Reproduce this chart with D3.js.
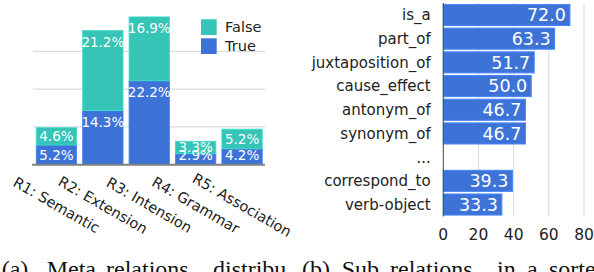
<!DOCTYPE html>
<html><head><meta charset="utf-8">
<script src="https://cdn.jsdelivr.net/npm/d3@7"></script>
<style>html,body{margin:0;padding:0;background:#fff;overflow:hidden}svg{display:block}</style>
</head><body>
<script>
// ---- Data ----
const metaCategories = ["R1: Semantic", "R2: Extension", "R3: Intension", "R4: Grammar", "R5: Association"];
const trueValues = [5.2, 14.3, 22.2, 2.9, 4.2];
const falseValues = [4.6, 21.2, 16.9, 3.3, 5.2];
const leftGridTicks = [10, 20, 30];
const legendLabels = ["False", "True"];

const subCategories = ["is_a", "part_of", "juxtaposition_of", "cause_effect", "antonym_of", "synonym_of", "...", "correspond_to", "verb-object"];
const subValues = [72.0, 63.3, 51.7, 50.0, 46.7, 46.7, null, 39.3, 33.3];
const rightTicks = [0, 20, 40, 60, 80];

const captionA = ["(a)", "Meta", "relations", "distribu"];
const captionB = ["(b)", "Sub", "relations", "in", "a", "sorted"];

// ---- Style ----
const TEAL = "#35c4b5", BLUE = "#3d73d6", FONT = "DejaVu Sans";
const W = 594, H = 272;
const svg = d3.select("body").append("svg").attr("width", W).attr("height", H);

// ---- Left chart: stacked bars ----
const x1 = d3.scaleBand().domain(metaCategories).range([33, 265.5]).paddingInner(0.13).paddingOuter(0.07);
const y1 = d3.scaleLinear().domain([0, 40]).range([164.7, 13.5]);

const gL = svg.append("g");
gL.selectAll("line.grid").data(leftGridTicks).join("line")
  .attr("x1", 33).attr("x2", 265).attr("y1", d => y1(d)).attr("y2", d => y1(d))
  .attr("stroke", "#d4d4d4").attr("stroke-width", 1);

const stackData = metaCategories.map((c, i) => ({cat: c, t: trueValues[i], f: falseValues[i]}));
const stack = d3.stack().keys(["t", "f"])(stackData);
const colors = {t: BLUE, f: TEAL};

stack.forEach(layer => {
  gL.selectAll(null).data(layer).join("rect")
    .attr("x", d => x1(d.data.cat)).attr("width", x1.bandwidth())
    .attr("y", d => y1(d[1])).attr("height", d => y1(d[0]) - y1(d[1]))
    .attr("fill", colors[layer.key]).attr("stroke", d3.color(colors[layer.key]).brighter(0.35)).attr("stroke-width", 0.8);
});
stack.forEach(layer => {
  gL.selectAll(null).data(layer).join("text")
    .attr("x", d => x1(d.data.cat) + x1.bandwidth() / 2)
    .attr("y", d => {
      const top = y1(d[1]), h = y1(d[0]) - y1(d[1]);
      let c = top + Math.min(11.5, h / 2);
      c = Math.min(c, y1(0) - 9.5);
      return c;
    })
    .attr("dy", "0.36em").attr("text-anchor", "middle")
    .attr("font-family", FONT).attr("font-size", 13.5).attr("fill", "#fff")
    .text(d => d3.format(".1f")(d[1] - d[0]) + "%");
});

// baseline
gL.append("line").attr("x1", 32).attr("x2", 265).attr("y1", y1(0)).attr("y2", y1(0))
  .attr("stroke", "#808080").attr("stroke-width", 2);

// x labels rotated
gL.selectAll("text.xl").data(metaCategories).join("text")
  .attr("transform", d => `translate(${x1(d) + x1.bandwidth() / 2},205) rotate(30)`)
  .attr("text-anchor", "middle").attr("dy", "0.35em")
  .attr("font-family", FONT).attr("font-size", 14.5).attr("fill", "#222")
  .text(d => d);

// legend
const legColors = [TEAL, BLUE];
legendLabels.forEach((l, i) => {
  gL.append("rect").attr("x", 201).attr("y", 19.3 + i * 19).attr("width", 15.7).attr("height", 15.7).attr("fill", legColors[i]);
  gL.append("text").attr("x", 225).attr("y", 27.2 + i * 19).attr("dy", "0.36em")
    .attr("font-family", FONT).attr("font-size", 14.5).attr("fill", "#222").text(l);
});

// ---- Right chart: horizontal bars ----
const x2 = d3.scaleLinear().domain([0, 80]).range([443.3, 584]);
const y2 = d3.scaleBand().domain(subCategories).range([3, 216.5]).paddingInner(0.11).paddingOuter(0.06);
const gR = svg.append("g");

gR.selectAll("line.grid").data(rightTicks.filter(d => d > 0)).join("line")
  .attr("x1", d => x2(d)).attr("x2", d => x2(d)).attr("y1", 3).attr("y2", 216.5)
  .attr("stroke", "#d8d8d8").attr("stroke-width", 1);

const subData = subCategories.map((c, i) => ({cat: c, v: subValues[i]})).filter(d => d.v != null);
gR.selectAll("rect").data(subData).join("rect")
  .attr("x", x2(0)).attr("y", d => y2(d.cat)).attr("width", d => x2(d.v) - x2(0)).attr("height", y2.bandwidth())
  .attr("fill", BLUE).attr("stroke", d3.color(BLUE).brighter(0.45)).attr("stroke-width", 1);
gR.selectAll("text.val").data(subData).join("text")
  .attr("x", d => x2(d.v) - 4).attr("y", d => y2(d.cat) + y2.bandwidth() / 2).attr("dy", "0.36em")
  .attr("text-anchor", "end").attr("font-family", FONT).attr("font-size", 17.5).attr("fill", "#fff")
  .text(d => d3.format(".1f")(d.v));

gR.append("line").attr("x1", x2(0)).attr("x2", x2(0)).attr("y1", 3).attr("y2", 216.5)
  .attr("stroke", "#444").attr("stroke-width", 1);

gR.selectAll("text.cat").data(subCategories).join("text")
  .attr("x", 430.7).attr("y", d => y2(d) + y2.bandwidth() / 2).attr("dy", "0.36em")
  .attr("text-anchor", "end").attr("font-family", FONT).attr("font-size", 15).attr("fill", "#222")
  .text(d => d);

gR.selectAll("text.tick").data(rightTicks).join("text")
  .attr("x", d => x2(d)).attr("y", 240).attr("text-anchor", "middle")
  .attr("font-family", FONT).attr("font-size", 15.5).attr("fill", "#222")
  .text(d => d);

// ---- Captions ----
const capAx = [1.7, 46.7, 106, 213];
const capBx = [302, 341.7, 390, 497, 527, 549];
svg.selectAll("text.capA").data(captionA).join("text")
  .attr("x", (d, i) => capAx[i]).attr("y", 277)
  .attr("font-family", "Liberation Serif").attr("font-size", 24).attr("fill", "#111").text(d => d);
svg.selectAll("text.capB").data(captionB).join("text")
  .attr("x", (d, i) => capBx[i]).attr("y", 277)
  .attr("font-family", "Liberation Serif").attr("font-size", 24).attr("fill", "#111").text(d => d);
</script>
</body></html>
